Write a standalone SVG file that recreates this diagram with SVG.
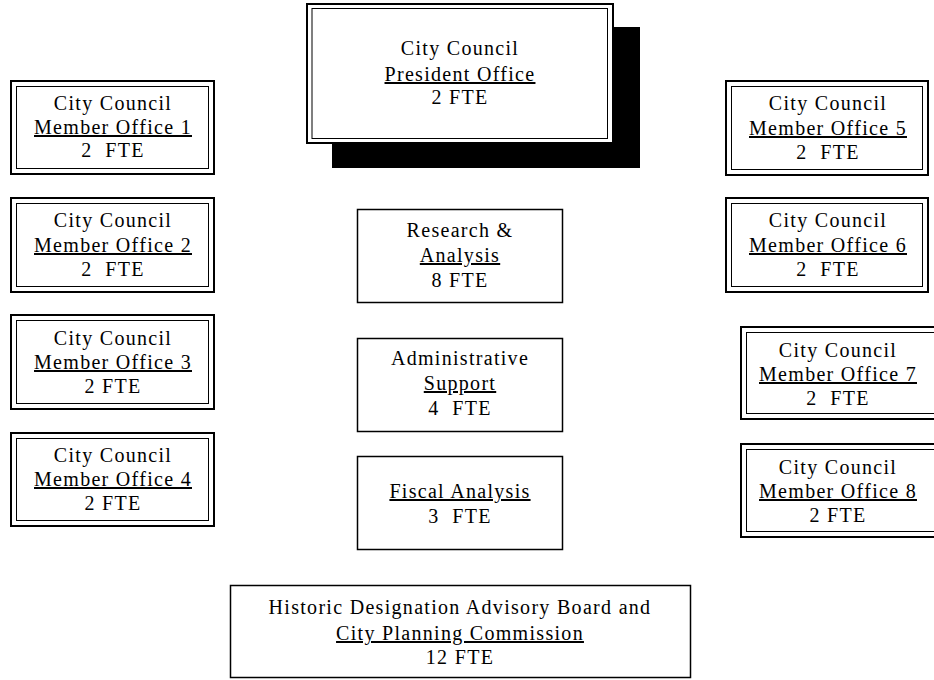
<svg xmlns="http://www.w3.org/2000/svg" width="934" height="680" viewBox="0 0 934 680">
<style>
.o{fill:#fff;stroke:#000;stroke-width:2}
.i{fill:none;stroke:#000;stroke-width:1}
.s{fill:#fff;stroke:#000;stroke-width:1.5}
text{font-family:"Liberation Serif","Times New Roman",serif;font-size:20px;letter-spacing:1.3px;fill:#000;text-anchor:middle;white-space:pre}
.u{text-decoration:underline}
</style>
<rect width="934" height="680" fill="#fff"/>
<g id="connectors"></g>
<g id="president">
<rect x="332" y="27" width="308" height="141" fill="#000"/>
<rect class="o" x="307" y="4" width="306" height="139"/>
<rect class="i" x="312" y="8.5" width="295.5" height="130"/>
<text x="460" y="55">City Council</text>
<text class="u" x="460" y="81">President Office</text>
<text x="460" y="104">2 FTE</text>
</g>
<g id="member1">
<rect class="o" x="11" y="81" width="203" height="93"/>
<rect class="i" x="16.5" y="86.5" width="192" height="82"/>
<text x="113" y="110">City Council</text>
<text class="u" x="113" y="134">Member Office 1</text>
<text x="113" y="157">2  FTE</text>
</g>
<g id="member2">
<rect class="o" x="11" y="198" width="203" height="94"/>
<rect class="i" x="16.5" y="203.5" width="192" height="83"/>
<text x="113" y="227">City Council</text>
<text class="u" x="113" y="252">Member Office 2</text>
<text x="113" y="276">2  FTE</text>
</g>
<g id="member3">
<rect class="o" x="11" y="315" width="203" height="94"/>
<rect class="i" x="16.5" y="320.5" width="192" height="83"/>
<text x="113" y="345">City Council</text>
<text class="u" x="113" y="369">Member Office 3</text>
<text x="113" y="393">2 FTE</text>
</g>
<g id="member4">
<rect class="o" x="11" y="433" width="203" height="93"/>
<rect class="i" x="16.5" y="438.5" width="192" height="82"/>
<text x="113" y="462">City Council</text>
<text class="u" x="113" y="486">Member Office 4</text>
<text x="113" y="510">2 FTE</text>
</g>
<g id="member5">
<rect class="o" x="726" y="81" width="202" height="94"/>
<rect class="i" x="731.5" y="86.5" width="191" height="83"/>
<text x="828" y="110">City Council</text>
<text class="u" x="828" y="135">Member Office 5</text>
<text x="828" y="159">2  FTE</text>
</g>
<g id="member6">
<rect class="o" x="726" y="198" width="202" height="94"/>
<rect class="i" x="731.5" y="203.5" width="191" height="83"/>
<text x="828" y="227">City Council</text>
<text class="u" x="828" y="252">Member Office 6</text>
<text x="828" y="276">2  FTE</text>
</g>
<g id="member7">
<rect class="o" x="741" y="327" width="210" height="92"/>
<rect class="i" x="746.5" y="332.5" width="199" height="81"/>
<text x="838" y="357">City Council</text>
<text class="u" x="838" y="381">Member Office 7</text>
<text x="838" y="405">2  FTE</text>
</g>
<g id="member8">
<rect class="o" x="741" y="444" width="210" height="93"/>
<rect class="i" x="746.5" y="449.5" width="199" height="82"/>
<text x="838" y="474">City Council</text>
<text class="u" x="838" y="498">Member Office 8</text>
<text x="838" y="522">2 FTE</text>
</g>
<g id="research">
<rect class="s" x="357.5" y="209.5" width="205" height="93"/>
<text x="460" y="237">Research &amp;</text>
<text class="u" x="460" y="262">Analysis</text>
<text x="460" y="287">8 FTE</text>
</g>
<g id="admin">
<rect class="s" x="357.5" y="338.5" width="205" height="93"/>
<text x="460" y="365">Administrative</text>
<text class="u" x="460" y="390">Support</text>
<text x="460" y="415">4  FTE</text>
</g>
<g id="fiscal">
<rect class="s" x="357.5" y="456.5" width="205" height="93"/>
<text class="u" x="460" y="498">Fiscal Analysis</text>
<text x="460" y="523">3  FTE</text>
</g>
<g id="historic">
<rect class="s" x="230.5" y="585.5" width="460" height="92"/>
<text x="460" y="614">Historic Designation Advisory Board and</text>
<text class="u" x="460" y="640">City Planning Commission</text>
<text x="460" y="664">12 FTE</text>
</g>
</svg>
